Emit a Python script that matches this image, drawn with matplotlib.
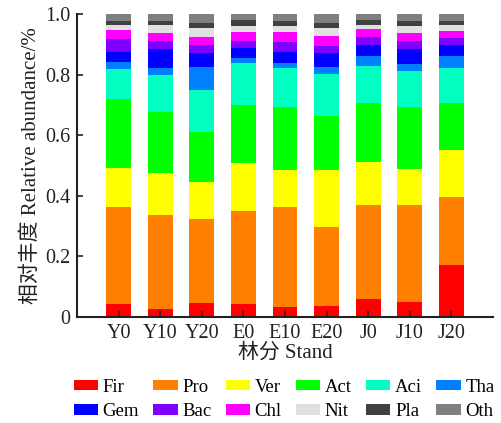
import matplotlib
matplotlib.use("Agg")
import matplotlib.pyplot as plt
import numpy as np

plt.rcParams['font.family'] = ['Liberation Serif', 'Noto Sans CJK SC']

# Stands (x axis)
stands = ['Y0', 'Y10', 'Y20', 'E0', 'E10', 'E20', 'J0', 'J10', 'J20']

# Relative abundance per phylum, stacked bottom-up
fir = [0.044, 0.027, 0.046, 0.042, 0.032, 0.035, 0.058, 0.049, 0.172]
pro = [0.320, 0.311, 0.278, 0.308, 0.332, 0.263, 0.313, 0.322, 0.225]
ver = [0.127, 0.137, 0.121, 0.159, 0.122, 0.186, 0.141, 0.118, 0.154]
act = [0.229, 0.200, 0.166, 0.191, 0.207, 0.181, 0.195, 0.204, 0.154]
aci = [0.097, 0.123, 0.139, 0.139, 0.130, 0.136, 0.120, 0.120, 0.118]
tha = [0.025, 0.025, 0.075, 0.016, 0.014, 0.023, 0.034, 0.021, 0.039]
gem = [0.032, 0.060, 0.047, 0.032, 0.038, 0.046, 0.038, 0.049, 0.037]
bac = [0.043, 0.029, 0.025, 0.025, 0.034, 0.024, 0.024, 0.029, 0.023]
chl = [0.029, 0.024, 0.028, 0.030, 0.033, 0.033, 0.026, 0.026, 0.021]
nit = [0.018, 0.028, 0.028, 0.018, 0.020, 0.026, 0.015, 0.024, 0.021]
pla = [0.014, 0.014, 0.018, 0.020, 0.016, 0.018, 0.016, 0.016, 0.014]
oth = [0.022, 0.022, 0.029, 0.020, 0.022, 0.029, 0.020, 0.022, 0.022]

taxa = ['Fir', 'Pro', 'Ver', 'Act', 'Aci', 'Tha',
        'Gem', 'Bac', 'Chl', 'Nit', 'Pla', 'Oth']
series = [fir, pro, ver, act, aci, tha, gem, bac, chl, nit, pla, oth]
colors = ['#FF0000', '#FF8000', '#FFFF00', '#00FF00', '#00FFC0', '#0080FF',
          '#0000FF', '#8000FF', '#FF00FF', '#E0E0E0', '#404040', '#808080']

fig = plt.figure(figsize=(5.01, 4.23), dpi=100)
ax = fig.add_axes([0.1537, 0.2506, 0.8303, 0.7163])

x = np.arange(len(stands))
bottom = np.zeros(len(stands))
handles = []
for name, vals, c in zip(taxa, series, colors):
    b = ax.bar(x, vals, width=0.6, bottom=bottom, color=c, label=name, linewidth=0)
    handles.append(b)
    bottom += np.array(vals)

ax.set_xlim(-1, 9)
ax.set_ylim(0, 1.0)
ax.set_xticks(x)
ax.set_xticklabels(stands)
ax.set_yticks([0, 0.2, 0.4, 0.6, 0.8, 1.0])
ax.set_yticklabels(['0', '0.2', '0.4', '0.6', '0.8', '1.0'])
ax.tick_params(direction='in', length=4, width=1.2, labelsize=14.5, colors='#222222')
ax.tick_params(axis='x', pad=5)
ax.tick_params(axis='y', pad=5)

for s in ['top', 'right']:
    ax.spines[s].set_visible(False)
for s in ['left', 'bottom']:
    ax.spines[s].set_linewidth(1.5)
    ax.spines[s].set_color('#222222')

ax.set_ylabel('相对丰度 Relative abundance/%', fontsize=15, color='#222222', labelpad=3)
ax.set_xlabel('林分 Stand', fontsize=15, color='#222222', labelpad=0)

# legend fills by column, so reorder to read row-wise
order = [0, 6, 1, 7, 2, 8, 3, 9, 4, 10, 5, 11]
fig.legend([handles[i] for i in order], [taxa[i] for i in order],
           loc='center', bbox_to_anchor=(0.567, 0.0555), ncol=6, frameon=False,
           fontsize=13.5, handlelength=1.3, handleheight=0.5, handletextpad=0.25,
           columnspacing=0.75, labelspacing=0.42, borderpad=0)

plt.savefig('out.png', dpi=100)
plt.close()
